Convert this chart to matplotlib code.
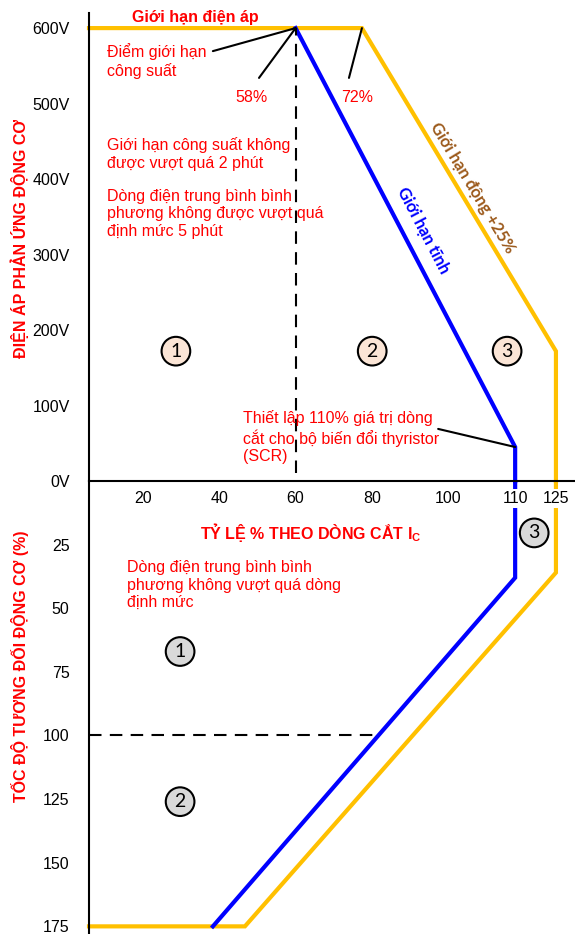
import numpy as np
import matplotlib
matplotlib.use('Agg')
import matplotlib.pyplot as plt

plt.rcParams['font.family'] = ['Liberation Sans', 'DejaVu Sans']
plt.rcParams['mathtext.fontset'] = 'custom'
plt.rcParams['mathtext.rm'] = 'Liberation Sans'
plt.rcParams['mathtext.bf'] = 'Liberation Sans:bold'

RED = '#ff0000'
ORANGE = '#ffc000'
BLUE = '#0000ff'
BROWN = '#9c5a1c'

# upper half: cut-off current (%) vs armature voltage (V)
static_x = [60, 110, 110]
static_v = [600, 45, 0]
dynamic_x = [5.8, 77.4, 125, 125]
dynamic_v = [600, 600, 172, 0]
power_point = (60, 600)
dyn_break = (77.4, 600)

# lower half: cut-off current (%) vs relative motor speed (%)
static_sx = [110, 110, 38.3]
static_s = [0, 38, 175]
dynamic_sx = [125, 125, 46.7, 5.8]
dynamic_s = [0, 36, 175, 175]
rated_speed = 100

x_ticks = [20, 40, 60, 80, 100, 110, 125]
v_ticks = [0, 100, 200, 300, 400, 500, 600]
v_labels = [f'{v}V' for v in v_ticks]
s_ticks = [25, 50, 75, 100, 125, 150, 175]

# the 110 / 125 end of the axis is drawn stretched
X_KNOTS = [0, 100, 110, 125, 140]
P_KNOTS = [0, 100, 117.6, 128.3, 143.3]


def fwd(x):
    return np.interp(x, X_KNOTS, P_KNOTS)


def inv(p):
    return np.interp(p, P_KNOTS, X_KNOTS)


def circled(ax, x, y, label, fc):
    ax.text(x, y, label, fontsize=14, family='Lato', ha='center', va='center',
            bbox=dict(boxstyle='circle,pad=0.3', fc=fc, ec='black', lw=1.5))


def leader(ax, start, end):
    ax.annotate('', xy=end, xytext=start,
                arrowprops=dict(arrowstyle='-', lw=1.5, color='black',
                                shrinkA=0, shrinkB=0))


fig = plt.figure(figsize=(5.75, 9.34), dpi=100)
ax = fig.add_axes([89 / 575, 453 / 934, 486 / 575, 468 / 934])
ax_s = fig.add_axes([89 / 575, 0, 486 / 575, 453 / 934], sharex=ax)
ax_s.patch.set_visible(False)
# keep the upper axes (and its x tick labels) above the lower curves
ax.set_zorder(2)
ax_s.set_zorder(1)

ax.set_xscale('function', functions=(fwd, inv))
ax.set_xlim(5.8, 130)
ax.set_ylim(0, 620)
ax_s.set_ylim(178, 0)

for a in (ax, ax_s):
    for side in ('top', 'right'):
        a.spines[side].set_visible(False)
    a.spines['left'].set_linewidth(1.5)
    a.tick_params(length=0, labelsize=11.5)
ax.spines['bottom'].set_linewidth(1.5)
ax_s.spines['bottom'].set_visible(False)
ax_s.tick_params(labelbottom=False)

ax.set_xticks(x_ticks)
ax.set_xticklabels([str(t) for t in x_ticks])
ax.xaxis.set_minor_locator(matplotlib.ticker.NullLocator())
ax.tick_params(axis='x', pad=7)
ax.tick_params(axis='y', pad=14)
ax.set_yticks(v_ticks)
ax.set_yticklabels(v_labels)
ax_s.set_yticks(s_ticks)
ax_s.tick_params(axis='y', pad=14)
for lbl in ax.get_xticklabels():
    lbl.set_bbox(dict(fc='white', ec='none', pad=1.5))

# limit curves
ax.plot(dynamic_x, dynamic_v, color=ORANGE, lw=3, clip_on=False, solid_joinstyle='miter')
ax.plot(static_x, static_v, color=BLUE, lw=3, clip_on=False, solid_joinstyle='miter')
ax_s.plot(dynamic_sx, dynamic_s, color=ORANGE, lw=3, clip_on=False, solid_joinstyle='miter')
ax_s.plot(static_sx, static_s, color=BLUE, lw=3, clip_on=False, solid_joinstyle='miter')

ax.plot([power_point[0], power_point[0]], [10, power_point[1]], color='black',
        lw=1.5, ls=(0, (6, 4)))
ax_s.plot([5.8, 82], [rated_speed, rated_speed], color='black', lw=1.5, ls=(0, (6, 4)))

# annotations
ax.text(33.6, 614, 'Giới hạn điện áp', color=RED, fontsize=11.5, fontweight='bold',
        ha='center', va='center')
leader(ax, (38.3, 569.5), power_point)
leader(ax, (50.4, 534), power_point)
leader(ax, (74.0, 534), dyn_break)
ax.text(48.3, 508, '58%', color=RED, fontsize=11.5, ha='center', va='center')
ax.text(76.1, 508, '72%', color=RED, fontsize=11.5, ha='center', va='center')
ax.text(10.5, 556, 'Điểm giới hạn\ncông suất', color=RED, fontsize=11.5,
        ha='left', va='center', linespacing=1.2)
ax.text(10.5, 433, 'Giới hạn công suất không\nđược vượt quá 2 phút', color=RED,
        fontsize=11.5, ha='left', va='center', linespacing=1.2)
ax.text(10.5, 354, 'Dòng điện trung bình bình\nphương không được vượt quá\nđịnh mức 5 phút',
        color=RED, fontsize=11.5, ha='left', va='center', linespacing=1.2)
ax.text(46.2, 58, 'Thiết lập 110% giá trị dòng\ncắt cho bộ biến đổi thyristor\n(SCR)',
        color=RED, fontsize=11.5, ha='left', va='center', linespacing=1.2)
leader(ax, (97.4, 69), (static_x[1], static_v[1]))

ax.text(93.4, 332, 'Giới hạn tĩnh', color=BLUE, fontsize=12, family='Lato',
        fontweight='bold', rotation=-62.4, rotation_mode='anchor', ha='center', va='center')
ax.text(103.6, 388, 'Giới hạn động +25%', color=BROWN, fontsize=12, family='Lato',
        fontweight='bold', rotation=-58.9, rotation_mode='anchor', ha='center', va='center')

circled(ax, 28.6, 172, '1', '#fbe5d6')
circled(ax, 80.1, 172, '2', '#fbe5d6')
circled(ax, 108.8, 172, '3', '#fbe5d6')

ax_s.text(15.7, 41, 'Dòng điện trung bình bình\nphương không vượt quá dòng\nđịnh mức',
          color=RED, fontsize=11.5, ha='left', va='center', linespacing=1.2)
circled(ax_s, 117.0, 20.4, '3', '#d9d9d9')
circled(ax_s, 29.7, 67, '1', '#d9d9d9')
circled(ax_s, 29.7, 126, '2', '#d9d9d9')

fig.text(311 / 575, 1 - 533 / 934, r'TỶ LỆ % THEO DÒNG CẮT I$_{\mathbf{C}}$', color=RED,
         fontsize=11.5, fontweight='bold', ha='center', va='center')
fig.text(20 / 575, 1 - 238 / 934, 'ĐIỆN ÁP PHẢN ỨNG ĐỘNG CƠ', color=RED, fontsize=11.5,
         fontweight='bold', rotation=90, ha='center', va='center')
fig.text(20 / 575, 1 - 666 / 934, 'TỐC ĐỘ TƯƠNG ĐỐI ĐỘNG CƠ (%)', color=RED, fontsize=11.5,
         fontweight='bold', rotation=90, ha='center', va='center')

fig.savefig('out.png', dpi=100)
